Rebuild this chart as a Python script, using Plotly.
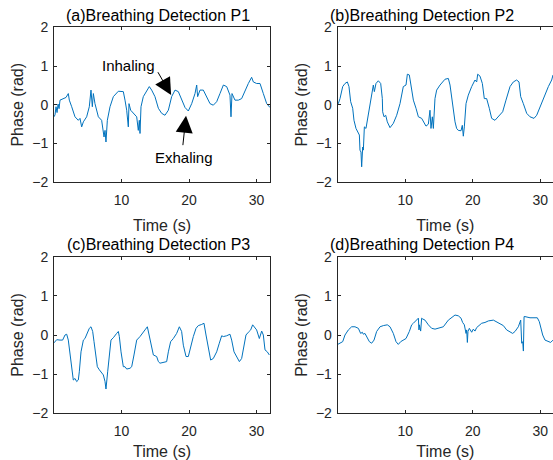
import plotly.graph_objects as go

# ---------------- data ----------------
t1 = [0, 0.15, 0.3, 0.45, 0.6, 0.75, 0.89, 1.38, 1.78, 2.12, 2.27, 2.62, 3.11, 3.60, 3.85, 4.10, 4.35, 4.84,
      5.23, 5.48, 5.68, 5.83, 6.07, 6.57, 7.06, 7.41, 7.56, 7.70, 7.90, 8.30, 8.79, 9.53, 10.27, 10.52,
      10.77, 11.01, 11.11, 11.36, 11.75, 12.25, 12.49, 12.64, 12.74, 12.89, 13.23, 13.73, 14.12, 14.47,
      14.96, 15.46, 15.95, 16.44, 16.94, 17.43, 17.93, 18.42, 18.91, 19.41, 19.90, 20.40, 20.89, 21.14,
      21.28, 21.63, 22.12, 22.62, 23.11, 23.60, 24.10, 24.59, 25.09, 25.58, 26.07, 26.22, 26.37, 26.81,
      27.31, 27.80, 28.30, 28.79, 29.28, 29.53, 30.02, 30.52, 31.01, 31.51, 32.0]
p1 = [-0.31, -0.26, -0.05, -0.20, 0.02, -0.10, 0.12, 0.16, 0.19, 0.29, 0.12, -0.05, -0.31, -0.40, -0.35,
      -0.57, -0.44, -0.31, -0.05, 0.38, -0.05, 0.29, 0.03, -0.31, -0.40, -0.83, -0.66, -0.96, -0.40, -0.05,
      0.21, 0.35, 0.34, 0.12, -0.14, -0.57, 0.03, -0.14, -0.22, -0.31, -0.66, -0.40, -0.74, -0.05, 0.21,
      0.38, 0.47, 0.38, 0.21, -0.09, -0.22, -0.27, -0.14, 0.21, 0.38, 0.34, 0.12, -0.07, -0.16, 0.03, 0.29,
      0.51, 0.21, 0.38, 0.38, 0.21, 0.03, -0.01, 0.08, 0.29, 0.51, 0.47, 0.25, -0.31, 0.29, 0.12, 0.12,
      0.16, 0.38, 0.55, 0.71, 0.59, 0.55, 0.55, 0.29, 0.03, -0.07]

t2 = [0, 0.09, 0.34, 0.74, 1.08, 1.43, 1.67, 1.92, 2.22, 2.41, 2.71, 3.06, 3.21, 3.30, 3.45, 3.55, 3.70,
      3.80, 3.95, 4.19, 4.54, 4.79, 5.13, 5.28, 5.43, 5.67, 6.02, 6.37, 6.61, 6.66, 6.86, 7.11, 7.35, 7.75,
      8.24, 8.74, 9.23, 9.72, 10.12, 10.32, 10.61, 10.86, 11.21, 11.60, 11.95, 12.44, 12.79, 13.08, 13.43,
      13.67, 13.82, 14.02, 14.17, 14.41, 14.66, 15.16, 15.90, 16.39, 16.64, 16.88, 17.13, 17.38, 17.62,
      17.87, 18.27, 18.46, 18.61, 18.76, 19.01, 19.35, 19.85, 20.34, 20.59, 20.74, 21.08, 21.43, 21.72,
      22.07, 22.46, 22.81, 23.30, 23.80, 24.44, 24.93, 25.53, 26.02, 26.51, 26.86, 27.11, 27.50, 28.00,
      28.49, 29.08, 29.48, 29.97, 30.47, 31.21, 31.70, 31.90]
p2 = [0.0, 0.03, 0.16, 0.47, 0.55, 0.59, 0.47, 0.08, -0.09, -0.40, -0.61, -0.76, -0.78, -1.17, -1.22, -1.60,
      -1.09, -1.17, -0.57, -0.61, -0.22, 0.03, 0.38, 0.51, 0.34, 0.55, 0.62, 0.55, 0.16, -0.18, -0.31, -0.27,
      -0.44, -0.59, -0.48, -0.27, 0.03, 0.47, 0.51, 0.79, 0.77, 0.47, 0.12, -0.09, -0.31, -0.35, -0.48,
      -0.55, -0.50, -0.14, -0.61, -0.31, -0.61, 0.16, 0.38, 0.51, 0.66, 0.68, 0.51, 0.21, -0.14, -0.44,
      -0.61, -0.66, -0.67, -0.53, -0.81, -0.57, 0.03, 0.25, 0.47, 0.64, 0.59, 0.79, 0.74, 0.55, 0.16, 0.16,
      -0.09, -0.35, -0.40, -0.31, -0.18, 0.12, 0.47, 0.59, 0.64, 0.59, 0.21, 0.03, -0.22, -0.31, -0.35,
      -0.27, -0.05, 0.16, 0.47, 0.64, 0.77]

t3 = [0, 0.4, 0.89, 1.28, 1.63, 1.88, 2.12, 2.37, 2.62, 2.86, 3.11, 3.36, 3.60, 3.75, 4.00, 4.35, 4.59,
      4.84, 5.23, 5.48, 5.73, 5.93, 6.22, 6.42, 6.72, 7.06, 7.31, 7.56, 7.70, 7.95, 8.20, 8.44, 8.79, 9.04,
      9.28, 9.53, 9.68, 9.93, 10.27, 10.52, 10.77, 11.26, 11.51, 11.85, 12.25, 12.74, 13.14, 13.48, 13.83,
      14.12, 14.47, 14.72, 15.21, 15.46, 15.70, 16.20, 16.69, 16.94, 17.28, 17.68, 18.17, 18.57, 18.91,
      19.16, 19.56, 19.90, 20.25, 20.64, 21.04, 21.38, 21.88, 22.22, 22.52, 22.86, 23.21, 23.60, 24.10,
      24.49, 24.84, 25.09, 25.58, 26.07, 26.32, 26.67, 27.06, 27.46, 27.80, 28.15, 28.44, 28.79, 29.14,
      29.43, 29.68, 30.02, 30.42, 30.77, 31.01, 31.26, 31.60, 31.90]
p3 = [-0.20, -0.12, -0.13, -0.13, 0.00, 0.02, -0.13, -0.43, -0.77, -1.15, -1.11, -1.19, -1.15, -0.94, -0.43,
      -0.13, -0.09, 0.00, 0.17, 0.21, 0.09, -0.17, -0.51, -0.81, -0.89, -0.98, -1.02, -1.19, -1.38, -0.94,
      -0.43, -0.13, -0.07, 0.00, 0.04, 0.09, -0.04, -0.43, -0.81, -0.81, -0.87, -0.85, -0.81, -0.51, -0.13,
      -0.04, 0.04, 0.13, 0.21, 0.00, -0.30, -0.51, -0.55, -0.68, -0.72, -0.70, -0.68, -0.43, -0.17, -0.09,
      0.04, 0.21, 0.09, -0.26, -0.55, -0.55, -0.30, -0.04, 0.17, 0.24, 0.27, 0.30, 0.00, -0.34, -0.64,
      -0.60, -0.43, -0.21, -0.02, -0.04, -0.02, 0.02, -0.13, -0.43, -0.55, -0.68, -0.60, -0.26, 0.00, 0.07,
      0.13, 0.26, 0.19, 0.13, -0.09, 0.10, 0.00, -0.38, -0.43, -0.51]

t4 = [0, 0.34, 0.74, 1.08, 1.58, 2.07, 2.56, 3.06, 3.40, 3.65, 3.80, 4.04, 4.29, 4.69, 5.03, 5.38, 5.77,
      6.27, 6.76, 7.35, 7.75, 8.24, 8.64, 8.98, 9.33, 9.72, 10.12, 10.61, 10.96, 11.21, 11.60, 11.95, 12.04,
      12.09, 12.29, 12.44, 12.59, 12.93, 13.43, 13.92, 14.42, 14.91, 15.65, 16.39, 17.13, 17.38, 17.87,
      18.27, 18.51, 18.76, 19.01, 19.11, 19.21, 19.30, 19.50, 19.85, 20.09, 20.34, 20.59, 20.98, 21.33,
      21.82, 22.32, 23.06, 23.56, 24.05, 24.54, 25.03, 25.53, 25.92, 26.27, 26.76, 27.11, 27.26, 27.41,
      27.51, 27.61, 27.75, 28.49, 29.08, 29.57, 29.87, 30.07, 30.37, 30.71, 31.21, 31.55, 31.90]
p4 = [-0.24, -0.21, -0.17, 0.00, 0.13, 0.21, 0.21, 0.17, 0.04, 0.07, 0.02, 0.04, -0.04, -0.17, -0.21, -0.13,
      0.09, 0.21, 0.24, 0.26, 0.21, 0.04, -0.17, -0.24, -0.17, -0.13, -0.09, 0.09, 0.26, 0.30, 0.38, 0.43,
      0.13, 0.26, 0.10, 0.43, 0.41, 0.38, 0.26, 0.17, 0.15, 0.17, 0.21, 0.38, 0.47, 0.51, 0.49, 0.43, 0.32,
      0.26, 0.04, 0.13, -0.19, 0.09, 0.17, 0.07, 0.15, 0.10, 0.19, 0.26, 0.30, 0.32, 0.36, 0.38, 0.34, 0.30,
      0.24, 0.13, 0.07, 0.04, 0.09, 0.21, 0.38, -0.21, -0.17, -0.41, 0.47, 0.47, 0.44, 0.44, 0.44, 0.34,
      0.17, 0.00, -0.13, -0.17, -0.19, -0.13]

titles = ["(a)Breathing Detection P1", "(b)Breathing Detection P2",
          "(c)Breathing Detection P3", "(d)Breathing Detection P4"]
x_ticks = [10, 20, 30]
y_ticks = [-2, -1, 0, 1, 2]

# annotation points in panel (a) data units: text centre, arrow tail, arrow head
inhale_text = (11.1, 1.02)
inhale_tail = (15.27, 0.88)
inhale_head = (17.35, 0.25)
exhale_text = (19.33, -1.37)
exhale_tail = (19.07, -1.08)
exhale_head = (19.56, -0.28)

# ---------------- layout ----------------
W, H = 553, 460
FONT = "Liberation Sans, Arial, sans-serif"
AX = "#262626"
BLUE = "#0072BD"


def px_x(v):               # pixel -> paper fraction
    return v / W


def px_y(v):
    return 1 - v / H


# pixel boxes: (left, right, top, bottom)
boxes = [(54, 270, 27.3, 182.3), (337.7, 553, 27.3, 182.3),
         (54, 270, 256.7, 413.3), (337.7, 553, 256.7, 413.3)]
series = [(t1, p1), (t2, p2), (t3, p3), (t4, p4)]
title_cx = [158, 422, 158, 422]

fig = go.Figure()
layout = dict(width=W, height=H, margin=dict(l=0, r=0, t=0, b=0, autoexpand=False),
              paper_bgcolor="white", plot_bgcolor="white",
              showlegend=False, font=dict(family=FONT, color=AX, size=14))
annotations = []
for i, ((l, r, tp, bt), (tt, pp)) in enumerate(zip(boxes, series)):
    n = "" if i == 0 else str(i + 1)
    right_col = i in (1, 3)
    fig.add_trace(go.Scatter(x=tt, y=pp, mode="lines", line=dict(color=BLUE, width=1),
                             xaxis="x" + n, yaxis="y" + n, hoverinfo="skip"))
    xr = [0, 32] if not right_col else [0, (r - l) / 6.75]
    layout["xaxis" + n] = dict(domain=[px_x(l), min(1, px_x(r))], anchor="y" + n, range=xr,
                               tickvals=x_ticks, ticks="inside", ticklen=3, tickcolor=AX,
                               showline=True, linecolor=AX, linewidth=1, mirror="ticks",
                               showgrid=False, zeroline=False, ticklabelstandoff=5,
                               automargin=False,
                               tickfont=dict(size=14, color=AX),
                               title=dict(text="Time (s)", font=dict(size=16, color=AX), standoff=12))
    layout["yaxis" + n] = dict(domain=[px_y(bt), px_y(tp)], anchor="x" + n, range=[-2, 2],
                               tickvals=y_ticks, ticks="inside", ticklen=3, tickcolor=AX,
                               showline=True, linecolor=AX, linewidth=1,
                               mirror=False if right_col else "ticks",
                               showgrid=False, zeroline=False, ticklabelstandoff=2,
                               automargin=False,
                               tickfont=dict(size=14, color=AX),
                               title=dict(text="Phase (rad)", font=dict(size=16, color=AX), standoff=4))
    annotations.append(dict(text=titles[i], x=px_x(title_cx[i]), y=px_y(tp - 12),
                            xref="paper", yref="paper", showarrow=False,
                            font=dict(size=16, color="black"), xanchor="center", yanchor="middle"))

for label, txt, tail, head in [("Inhaling", inhale_text, inhale_tail, inhale_head),
                               ("Exhaling", exhale_text, exhale_tail, exhale_head)]:
    annotations.append(dict(text=label, x=txt[0], y=txt[1], xref="x", yref="y", showarrow=False,
                            font=dict(size=15, color="black")))
    annotations.append(dict(text="", x=head[0], y=head[1], ax=tail[0], ay=tail[1],
                            xref="x", yref="y", axref="x", ayref="y", showarrow=True,
                            arrowhead=2, arrowsize=3.4, arrowwidth=1, arrowcolor="black",
                            standoff=0, startstandoff=0))
layout["annotations"] = annotations
fig.update_layout(**layout)

page_css = ("document.documentElement.style.margin='0';document.body.style.margin='0';"
            "document.documentElement.style.overflow='hidden';document.body.style.overflow='hidden';")
fig.write_html("out.html", post_script=page_css, config={"displayModeBar": False})
